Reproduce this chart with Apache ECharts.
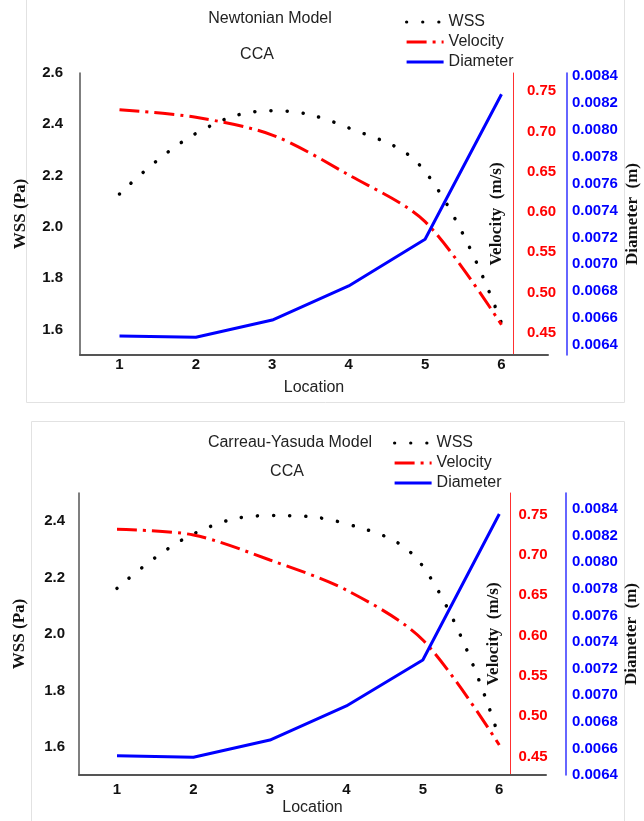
<!DOCTYPE html>
<html>
<head>
<meta charset="utf-8">
<script src="https://cdn.jsdelivr.net/npm/echarts@6/dist/echarts.min.js"></script>
<style>
  html, body { margin: 0; padding: 0; background: #ffffff; }
  #chart { width: 644px; height: 821px; }
</style>
</head>
<body>
<div id="chart"></div>
<script>
// Measurement locations along the CCA
const locations = [1, 2, 3, 4, 5, 6];

// Newtonian model
const wssNewtonian = [2.128, 2.364, 2.453, 2.386, 2.216, 1.624];
const velNewtonian = [0.727, 0.7175, 0.6955, 0.646, 0.588, 0.460];
const diaNewtonian = [0.006467, 0.006458, 0.006586, 0.006839, 0.007186, 0.008264];

// Carreau-Yasuda model
const wssCarreau = [2.162, 2.355, 2.420, 2.391, 2.240, 1.630];
const velCarreau = [0.7317, 0.7247, 0.6937, 0.6565, 0.5946, 0.4645];
const diaCarreau = [0.006545, 0.006533, 0.006663, 0.006919, 0.007265, 0.008362];

// Tick labels
const wssTicksTop = [1.6, 1.8, 2.0, 2.2, 2.4, 2.6];
const wssTicksBottom = [1.6, 1.8, 2.0, 2.2, 2.4];
const velocityTicks = [0.45, 0.50, 0.55, 0.60, 0.65, 0.70, 0.75];
const diameterTicks = [0.0064, 0.0066, 0.0068, 0.0070, 0.0072, 0.0074, 0.0076, 0.0078, 0.0080, 0.0082, 0.0084];

const SANS = 'Liberation Sans, Arial, sans-serif';
const SERIF = 'Liberation Serif, Times New Roman, serif';

function pairs(vals) {
  return locations.map((x, i) => [x, vals[i]]);
}

const wssLine = { color: '#000000', width: 3.5, type: [0.1, 16], cap: 'round' };
const velLine = { color: '#ff0000', width: 3, type: [20, 6, 3, 6] };
const diaLine = { color: '#0000ff', width: 3 };

function xAxis(gridIndex, min, max, labelMargin) {
  return {
    type: 'value', gridIndex, min, max,
    name: 'Location', nameLocation: 'middle', nameGap: 25, nameMoveOverlap: false,
    nameTextStyle: { fontFamily: SANS, fontSize: 16, color: '#222' },
    axisLine: { show: true, onZero: false, lineStyle: { color: '#555', width: 2 } },
    axisTick: { show: false },
    splitLine: { show: false },
    axisLabel: {
      customValues: locations, margin: labelMargin,
      fontFamily: SANS, fontSize: 15, fontWeight: 'bold', color: '#111',
      formatter: v => String(v)
    }
  };
}

function wssAxis(gridIndex, min, max, ticks, margin) {
  return {
    type: 'value', gridIndex, position: 'left', min, max,
    name: 'WSS (Pa)', nameLocation: 'middle', nameGap: 51, nameMoveOverlap: false,
    nameTextStyle: { fontFamily: SERIF, fontSize: 17, fontWeight: 'bold', color: '#111' },
    axisLine: { show: true, onZero: false, lineStyle: { color: '#555', width: 1.5 } },
    axisTick: { show: false },
    splitLine: { show: false },
    axisLabel: {
      customValues: ticks, margin,
      fontFamily: SANS, fontSize: 15, fontWeight: 'bold', color: '#111',
      formatter: v => v.toFixed(1)
    }
  };
}

function velocityAxis(gridIndex, min, max, offset, margin) {
  return {
    type: 'value', gridIndex, position: 'right', offset, min, max,
    name: 'Velocity  (m/s)', nameLocation: 'middle', nameGap: -25, nameMoveOverlap: false,
    nameTextStyle: { fontFamily: SERIF, fontSize: 17, fontWeight: 'bold', color: '#111' },
    axisLine: { show: true, onZero: false, lineStyle: { color: '#ff3030', width: 1 } },
    axisTick: { show: false },
    splitLine: { show: false },
    axisLabel: {
      customValues: velocityTicks, margin,
      fontFamily: SANS, fontSize: 15, fontWeight: 'bold', color: '#ff0000',
      formatter: v => v.toFixed(2)
    }
  };
}

function diameterAxis(gridIndex, min, max, offset, margin) {
  return {
    type: 'value', gridIndex, position: 'right', offset, min, max,
    name: 'Diameter  (m)', nameLocation: 'middle', nameGap: 57, nameMoveOverlap: false,
    nameTextStyle: { fontFamily: SERIF, fontSize: 17, fontWeight: 'bold', color: '#111' },
    axisLine: { show: true, onZero: false, lineStyle: { color: '#3333ff', width: 1.5 } },
    axisTick: { show: false },
    splitLine: { show: false },
    axisLabel: {
      customValues: diameterTicks, margin,
      fontFamily: SANS, fontSize: 15, fontWeight: 'bold', color: '#0000ff',
      formatter: v => v.toFixed(4)
    }
  };
}

function seriesSet(xIdx, yBase, wss, vel, dia) {
  return [
    { name: 'WSS', type: 'line', xAxisIndex: xIdx, yAxisIndex: yBase, data: pairs(wss),
      smooth: 0.4, symbol: 'none', lineStyle: wssLine, itemStyle: { color: '#000000' } },
    { name: 'Velocity', type: 'line', xAxisIndex: xIdx, yAxisIndex: yBase + 1, data: pairs(vel),
      smooth: 0.3, symbol: 'none', lineStyle: velLine, itemStyle: { color: '#ff0000' } },
    { name: 'Diameter', type: 'line', xAxisIndex: xIdx, yAxisIndex: yBase + 2, data: pairs(dia),
      symbol: 'none', lineStyle: diaLine, itemStyle: { color: '#0000ff' } }
  ];
}

function legend(left, top) {
  return {
    orient: 'vertical', left, top, itemWidth: 37, itemHeight: 12, itemGap: 4,
    itemStyle: { opacity: 0 },
    lineStyle: { width: 3.2 },
    selectedMode: false,
    data: ['WSS', 'Velocity', 'Diameter'],
    textStyle: { fontFamily: SANS, fontSize: 16, color: '#222', lineHeight: 16 }
  };
}

function label(text, x, y) {
  return {
    type: 'text', x, y, silent: true,
    style: { text, fontFamily: SANS, fontSize: 16, fill: '#222', align: 'center', verticalAlign: 'middle' }
  };
}

const chart = echarts.init(document.getElementById('chart'), null, { renderer: 'canvas' });

chart.setOption({
  animation: false,
  backgroundColor: '#ffffff',
  graphic: [
    { type: 'rect', silent: true, z: -10, shape: { x: 26.5, y: -4, width: 598, height: 406.5 },
      style: { fill: 'none', stroke: '#e2e2e2', lineWidth: 1 } },
    { type: 'rect', silent: true, z: -10, shape: { x: 31.5, y: 421.5, width: 593, height: 420 },
      style: { fill: 'none', stroke: '#e2e2e2', lineWidth: 1 } },
    label('Newtonian Model', 270, 19),
    label('CCA', 257, 55),
    label('Carreau-Yasuda Model', 290, 443),
    label('CCA', 287, 472)
  ],
  legend: [legend(400, 9), legend(388, 430)],
  grid: [
    { left: 80, top: 73, width: 468, height: 282, outerBoundsMode: 'none' },
    { left: 79, top: 493, width: 467, height: 282, outerBoundsMode: 'none' }
  ],
  xAxis: [
    xAxis(0, 0.483, 6.609, 2),
    xAxis(1, 0.503, 6.611, 7)
  ],
  yAxis: [
    wssAxis(0, 1.5, 2.6, wssTicksTop, 17),
    velocityAxis(0, 0.4225, 0.7725, -35, 14),
    diameterAxis(0, 0.006326, 0.008422, 19, 5),
    wssAxis(1, 1.5, 2.5, wssTicksBottom, 14),
    velocityAxis(1, 0.4273, 0.7767, -35.5, 8),
    diameterAxis(1, 0.0064, 0.00852, 20, 6)
  ],
  series: [
    ...seriesSet(0, 0, wssNewtonian, velNewtonian, diaNewtonian),
    ...seriesSet(1, 3, wssCarreau, velCarreau, diaCarreau)
  ]
});
</script>
</body>
</html>
